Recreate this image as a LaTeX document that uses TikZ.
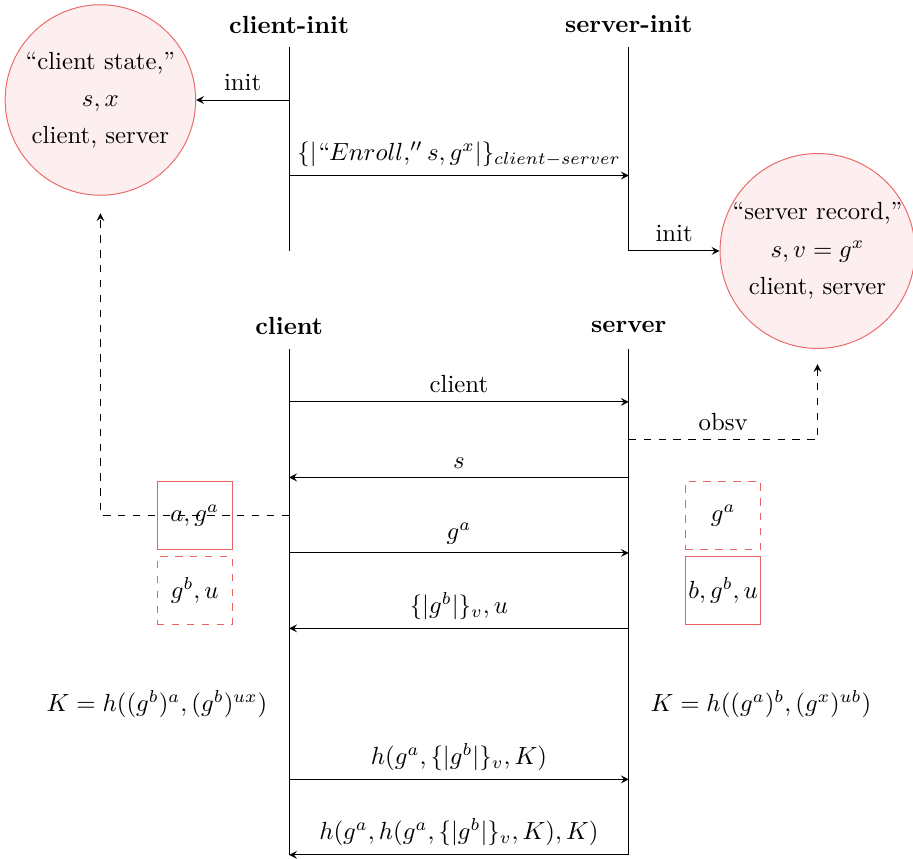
\documentclass[tikz,border=0pt]{standalone}
\definecolor{keyred}{RGB}{232,80,80}
\usepackage{amsmath,amssymb}
\usetikzlibrary{arrows.meta,positioning,calc}
\tikzset{
  store/.style={circle, draw=keyred!85, fill=keyred!9, minimum size=2.7cm,
                inner sep=0pt, align=center},
  keybox/.style={draw=keyred!90, minimum width=1.07cm, minimum height=0.963cm, inner sep=0pt},
  guessbox/.style={keybox, dashed},
  head/.style={font=\bfseries},
  msg/.style={-stealth},
  leak/.style={-stealth, dashed},
}

\begin{document}
\begin{tikzpicture}[x=1.07cm, y=1.07cm]
    \useasboundingbox (-3.83,-0.053) rectangle (8.265,11.325);
    % enrolment
    \node[head] (cinit) at (0,11) {client-init};
    \node[head] (sinit) at (4.5,11) {server-init};
    \coordinate (ci-top) at (0,10.7);
    \coordinate (ci-bot) at (0,8);
    \coordinate (si-top) at (4.5,10.7);
    \coordinate (si-bot) at (4.5,8);
    \coordinate (ci10) at (0,10);
    \coordinate (ci9) at (0,9);
    \coordinate (si9) at (4.5,9);
    \draw (ci-top) -- (ci-bot);
    \draw (si-top) -- (si-bot);
    \node[store] (cstate) at (-2.5,10) {``client state,''\\[3pt] $s,x$\\[3pt] client, server};
    \node[store] (srecord) at (7,8) {``server record,''\\[3pt] $s,v=g^x$\\[3pt] client, server};
    \draw[msg] (ci10) -- node[above] {init} (cstate);
    \draw[msg] (ci9) -- node[above] {$\{|``Enroll,'' s,g^x|\}_{client-server}$} (si9);
    \draw[msg] (si-bot) -- node[above] {init} (srecord);
    % login
    \node[head] (client) at (0,7) {client};
    \node[head] (server) at (4.5,7) {server};
    \coordinate (c-top) at (0,6.7);
    \coordinate (s-top) at (4.5,6.7);
    \foreach \y in {0,1,3,4,5,6} {
      \coordinate (c\y) at (0,\y);
      \coordinate (s\y) at (4.5,\y);
    }
    \draw (c-top) -- (c0);
    \draw (s-top) -- (s0);
    \draw[msg] (c6) -- node[above] {client} (s6);
    \draw[msg] (s5) -- node[above] {$s$} (c5);
    \draw[msg] (c4) -- node[above] {$g^a$} (s4);
    \draw[msg] (s3) -- node[above] {$\{|g^b|\}_v, u$} (c3);
    \draw[msg] (c1) -- node[above] {$h(g^a,\{|g^b|\}_v,K)$} (s1);
    \draw[msg] (s0) -- node[above] {$h(g^a,h(g^a,\{|g^b|\}_v,K),K)$} (c0);
    % secrets
    \node[keybox] (cown) at (-1.25,4.5) {$a,g^a$};
    \node[guessbox] (cpeer) at (-1.25,3.5) {$g^b,u$};
    \node[guessbox] (speer) at (5.75,4.5) {$g^a$};
    \node[keybox] (sown) at (5.75,3.5) {$b,g^b,u$};
    \node (ckey) at (-1.75,2) {$K = h((g^b)^a,(g^b)^{ux})$};
    \node (skey) at (6.25,2) {$K = h((g^a)^b,(g^x)^{ub})$};
    % leaks
    \coordinate (cleak) at (0,4.5);
    \coordinate (cwatch) at (-2.5,8.5);
    \coordinate (sleak) at (4.5,5.5);
    \coordinate (swatch) at (7,6.5);
    \draw[leak] (cleak) -| (cwatch);
    \draw[leak] (sleak) -| node[pos=0.25, above] {obsv} (swatch);
\end{tikzpicture}
\end{document}
